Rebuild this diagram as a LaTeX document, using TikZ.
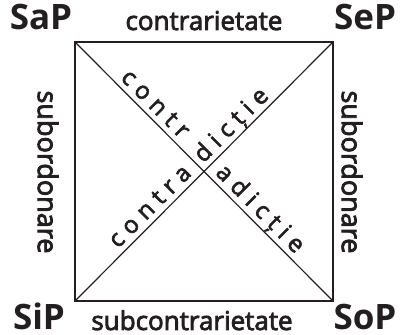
\documentclass[tikz,border=0pt]{standalone}
\usepackage{fontspec}
\setmainfont{Open Sans}
\usetikzlibrary{calc}
\definecolor{sqInk}{RGB}{35,31,32}
\tikzset{
  corner/.style={font=\fontsize{35}{35}\selectfont\bfseries, text=sqInk, inner sep=0pt, anchor=base},
  relation/.style={font=\fontsize{26}{26}\selectfont\addfontfeature{FakeBold=3}, text=sqInk, inner sep=0pt, anchor=base},
  sidelabel/.style={font=\fontsize{27}{27}\selectfont\addfontfeature{FakeBold=3}, text=sqInk, inner sep=0pt, rotate=-90},
  diaglabel/.style={font=\fontsize{24}{24}\selectfont\addfontfeature{LetterSpace=28,FakeBold=2.5}, text=sqInk, inner sep=0pt},
  edge/.style={line width=1.8pt, draw=sqInk},
  diag/.style={line width=1.2pt, draw=sqInk},
}
\begin{document}
\begin{tikzpicture}[x=1pt,y=1pt]
  \useasboundingbox (0,0) rectangle (405,335);

  % square of opposition
  \coordinate (tl) at (75,293);
  \coordinate (tr) at (333,293);
  \coordinate (bl) at (75,34);
  \coordinate (br) at (333,34);
  \coordinate (ctr) at (intersection of tl--br and bl--tr);

  \draw[diag] (tl) -- (br);
  \draw[diag] (bl) -- (tr);
  \draw[edge] (tl) -- (tr) -- (br) -- (bl) -- cycle;

  % corners
  \node[corner] (sap) at (41,305) {SaP};
  \node[corner] (sep) at (365,305) {SeP};
  \node[corner] (sip) at (39,5) {SiP};
  \node[corner] (sop) at (365,5) {SoP};

  % relations on the sides
  \node[relation] (contr) at (204,305) {contrarietate};
  \node[relation] (subcontr) at (192,5) {subcontrarietate};
  \node[sidelabel] (subst) at (48,163) {subordonare};
  \node[sidelabel] (subdr) at (352,163) {subordonare};

  % diagonals
  \node[diaglabel, rotate=-45, anchor=base east] (dgA1) at ($(ctr)+(135:39)+(45:6)$) {contr};
  \node[diaglabel, rotate=-45, anchor=base west] (dgA2) at ($(ctr)+(-45:9)+(45:6)$) {adicție};
  \node[diaglabel, rotate=45, anchor=base east] (dgB1) at ($(ctr)+(225:10)+(135:6)$) {contra};
  \node[diaglabel, rotate=45, anchor=base west] (dgB2) at ($(ctr)+(45:5)+(135:6)$) {dicție};
\end{tikzpicture}
\end{document}
